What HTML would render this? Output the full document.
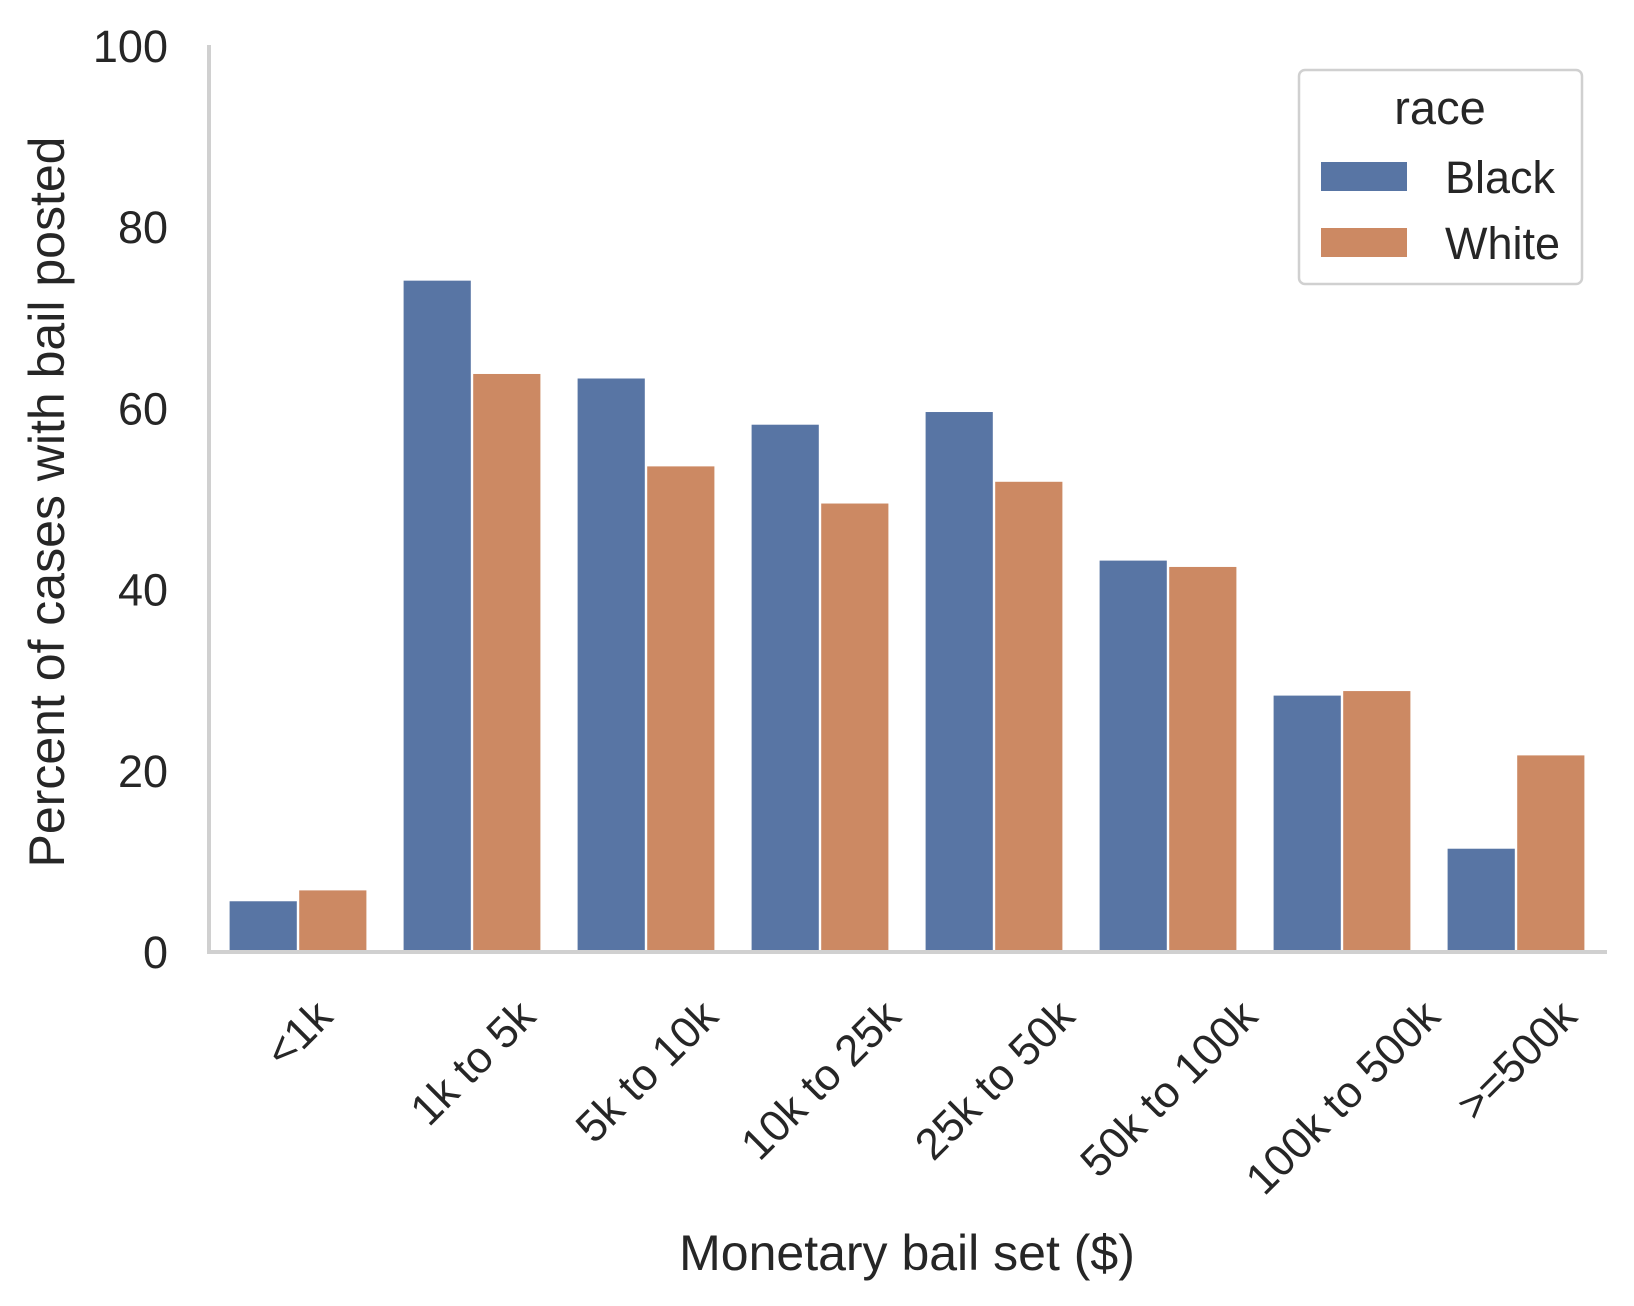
<!DOCTYPE html>
<html><head><meta charset="utf-8"><style>
body{margin:0;background:#fff}
svg{display:block;font-family:"Liberation Sans",Arial,sans-serif;fill:#262626}
</style></head><body>
<svg id="chart" width="1634" height="1306" viewBox="0 0 1634 1306" xmlns="http://www.w3.org/2000/svg">
<g id="bars"></g>
<g id="yticks"></g>
<g id="xticks"></g>
<line x1="209" y1="45" x2="209" y2="954" stroke="#d0d0d0" stroke-width="4"/>
<line x1="207" y1="952" x2="1607" y2="952" stroke="#d0d0d0" stroke-width="4"/>
<text transform="translate(64,502) rotate(-90)" text-anchor="middle" font-size="50">Percent of cases with bail posted</text>
<text x="907" y="1270" text-anchor="middle" font-size="50">Monetary bail set ($)</text>
<g transform="translate(-6,0)">
<rect x="1305" y="70" width="283" height="214" rx="6" fill="#fff" stroke="#d0d0d0" stroke-width="2.5"/>
<text x="1446" y="124" text-anchor="middle" font-size="47">race</text>
<rect x="1327" y="162" width="86" height="29" fill="#5875a4"/>
<text x="1451" y="193" font-size="45">Black</text>
<rect x="1327" y="228" width="86" height="29" fill="#cc8963"/>
<text x="1451" y="259" font-size="45">White</text>
</g>
</svg>
<script>
const categories=["<1k","1k to 5k","5k to 10k","10k to 25k","25k to 50k","50k to 100k","100k to 500k",">=500k"];
const blackValues=[5.6,74.1,63.3,58.2,59.6,43.2,28.3,11.4];
const whiteValues=[6.8,63.8,53.6,49.5,51.9,42.5,28.8,21.7];
const yTicks=[0,20,40,60,80,100];
const NS="http://www.w3.org/2000/svg";
const X0=211,X1=1603,Y0=952,YTOP=46;
const groupW=(X1-X0)/categories.length;
function y(v){return Y0-(v/100)*(Y0-YTOP);}
function gx(i){return X0+groupW*(i+0.5);}
const bars=document.getElementById('bars');
const bw=groupW*0.4;
function drawBar(i,v,off,color,name){
  const r=document.createElementNS(NS,'rect');
  r.setAttribute('x',gx(i)+off*bw+1.2);
  r.setAttribute('width',bw-2.4);
  r.setAttribute('y',y(v));
  r.setAttribute('height',Y0-y(v));
  r.setAttribute('fill',color);
  
  
  bars.appendChild(r);
}
categories.forEach((c,i)=>{
  drawBar(i,blackValues[i],-1,'#5875a4','bar-black-'+i);
  drawBar(i,whiteValues[i],0,'#cc8963','bar-white-'+i);
});
const yt=document.getElementById('yticks');
yTicks.forEach(t=>{
  const e=document.createElementNS(NS,'text');
  e.setAttribute('x',168);e.setAttribute('y',y(t)+16);
  e.setAttribute('text-anchor','end');e.setAttribute('font-size','45');
  e.textContent=t;
  
  
  yt.appendChild(e);
});
const xt=document.getElementById('xticks');
categories.forEach((c,i)=>{
  const e=document.createElementNS(NS,'text');
  e.setAttribute('font-size','44');
  e.setAttribute('text-anchor','middle');
  e.textContent=c;
  
  
  xt.appendChild(e);
  const w=e.getComputedTextLength();
  const h=44;
  const bh=(w+h*0.75)*Math.SQRT1_2;
  const cy=996+bh/2;
  e.setAttribute('transform','translate('+gx(i)+','+cy+') rotate(-45) translate(0,'+(h*0.36)+')');
});
</script>
</body></html>
